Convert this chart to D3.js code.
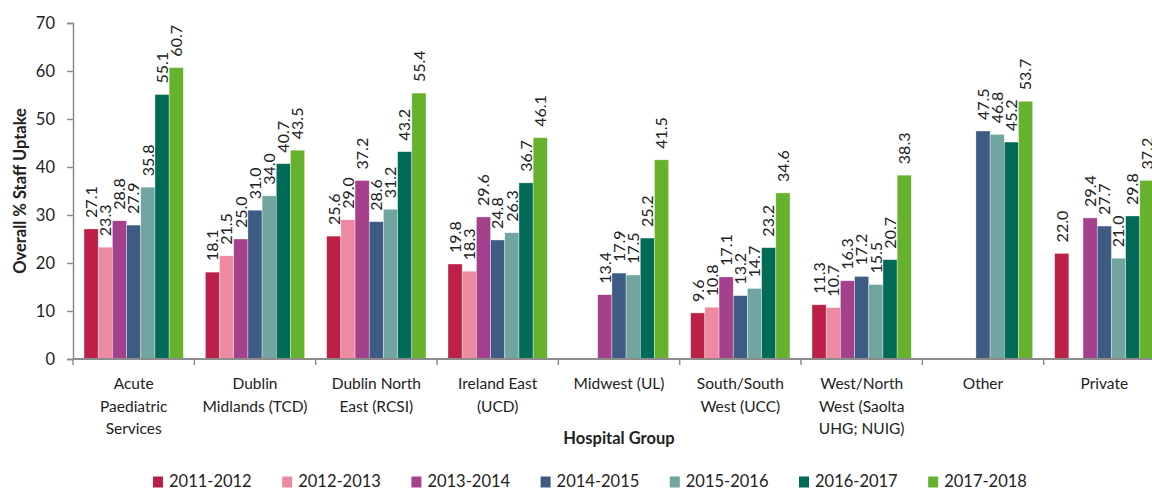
<!DOCTYPE html>
<html>
<head>
<meta charset="utf-8">
<script src="https://cdn.jsdelivr.net/npm/d3@7"></script>
<style>
  body { margin: 0; background: #fff; }
  svg { display: block; font-family: Lato, "Open Sans", sans-serif; }
</style>
</head>
<body>
<svg id="chart" width="1152" height="490"></svg>
<script>
// hospital groups (lines of each x label)
const groups = [
    ["Acute", "Paediatric", "Services"],
    ["Dublin", "Midlands (TCD)"],
    ["Dublin North", "East (RCSI)"],
    ["Ireland East", "(UCD)"],
    ["Midwest (UL)"],
    ["South/South", "West (UCC)"],
    ["West/North", "West (Saolta", "UHG; NUIG)"],
    ["Other"],
    ["Private"]
]

const seasons = ["2011-2012", "2012-2013", "2013-2014", "2014-2015", "2015-2016", "2016-2017", "2017-2018"]
const colors = ["#bc2046", "#ec8aa1", "#a5418c", "#3e5b83", "#72a59f", "#016b57", "#67b22d"]

// one array per season, one value per hospital group (null = no bar)
const v2011 = [27.1, 18.1, 25.6, 19.8, null, 9.6, 11.3, null, 22.0]
const v2012 = [23.3, 21.5, 29.0, 18.3, null, 10.8, 10.7, null, null]
const v2013 = [28.8, 25.0, 37.2, 29.6, 13.4, 17.1, 16.3, null, 29.4]
const v2014 = [27.9, 31.0, 28.6, 24.8, 17.9, 13.2, 17.2, 47.5, 27.7]
const v2015 = [35.8, 34.0, 31.2, 26.3, 17.5, 14.7, 15.5, 46.8, 21.0]
const v2016 = [55.1, 40.7, 43.2, 36.7, 25.2, 23.2, 20.7, 45.2, 29.8]
const v2017 = [60.7, 43.5, 55.4, 46.1, 41.5, 34.6, 38.3, 53.7, 37.2]
const series = [v2011, v2012, v2013, v2014, v2015, v2016, v2017]

const yTicks = [0, 10, 20, 30, 40, 50, 60, 70]

const margin = {top: 23, left: 73, bottom: 131}
const height = 490
const plotRight = 1165   // axis runs past the right edge, as in the original
const axisColor = "#8c8c8c"
const textColor = "#222"

const svg = d3.select("#chart")

const x = d3.scaleBand()
    .domain(d3.range(groups.length))
    .range([margin.left, plotRight])

const xInner = d3.scaleBand()
    .domain(d3.range(seasons.length))
    .range([11, x.bandwidth() - 11])

const y = d3.scaleLinear()
    .domain([0, 70])
    .range([height - margin.bottom, margin.top])

// bars
seasons.forEach(function(s, si){
    let data = series[si].map((v, gi) => ({g: gi, v: v})).filter(d => d.v !== null)
    let g = svg.append("g").attr("fill", colors[si])
    g.selectAll("rect").data(data).join("rect")
        .attr("x", d => x(d.g) + xInner(si))
        .attr("width", xInner.bandwidth())
        .attr("y", d => y(d.v))
        .attr("height", d => y(0) - y(d.v))
        .attr("stroke", "#fff")
        .attr("stroke-opacity", 0.6)
        .attr("stroke-width", 0.6)

    // value labels, rotated
    g.selectAll("text").data(data).join("text")
        .attr("transform", d => `translate(${x(d.g) + xInner(si) + xInner.bandwidth() / 2}, ${y(d.v) - 11}) rotate(-90)`)
        .attr("dy", "0.36em")
        .attr("fill", textColor)
        .attr("font-size", 16)
        .text(d => d.v.toFixed(1))
})

// y axis
const yAxis = svg.append("g")
    .attr("transform", `translate(${margin.left},0)`)
    .call(d3.axisLeft(y).tickValues(yTicks).tickSize(6).tickPadding(12).tickFormat(d3.format("d")))
yAxis.select(".domain").attr("stroke", axisColor).attr("stroke-width", 1.5)
yAxis.selectAll(".tick line").attr("stroke", axisColor).attr("stroke-width", 1.5)
yAxis.selectAll(".tick text").attr("fill", textColor).attr("font-size", 16.5).attr("font-family", "Lato, sans-serif")

// x axis with ticks between groups
const xAxis = svg.append("g")
    .attr("transform", `translate(0,${y(0)})`)
xAxis.append("line")
    .attr("x1", margin.left).attr("x2", plotRight)
    .attr("stroke", axisColor).attr("stroke-width", 2)
xAxis.selectAll(".sep").data(d3.range(groups.length + 1)).join("line")
    .attr("class", "sep")
    .attr("x1", i => margin.left + i * x.step())
    .attr("x2", i => margin.left + i * x.step())
    .attr("y1", 0).attr("y2", 6)
    .attr("stroke", axisColor).attr("stroke-width", 1.5)

// category labels
const catLabels = svg.append("g").attr("font-size", 15.5).attr("fill", textColor).attr("text-anchor", "middle")
groups.forEach(function(lines, gi){
    let t = catLabels.append("text")
        .attr("x", x(gi) + x.bandwidth() / 2)
        .attr("y", 389)
    lines.forEach(function(line, li){
        t.append("tspan")
            .attr("x", x(gi) + x.bandwidth() / 2)
            .attr("y", 389 + li * 22.7)
            .text(line)
    })
})

// axis titles
svg.append("text")
    .attr("x", (margin.left + plotRight) / 2)
    .attr("y", 444)
    .attr("text-anchor", "middle")
    .attr("font-weight", "bold")
    .attr("font-size", 16.5)
    .attr("fill", textColor)
    .text("Hospital Group")

svg.append("text")
    .attr("transform", `translate(26, ${(y(0) + y(70)) / 2}) rotate(-90)`)
    .attr("text-anchor", "middle")
    .attr("font-weight", "bold")
    .attr("font-size", 16.5)
    .attr("fill", textColor)
    .text("Overall % Staff Uptake")

// legend
const legend = svg.append("g").attr("transform", "translate(153, 481.5)")
const legendItems = legend.selectAll("g").data(seasons).join("g")
    .attr("transform", (d, i) => `translate(${i * 129.2}, 0)`)
legendItems.append("rect")
    .attr("x", 0).attr("y", -5).attr("width", 10).attr("height", 11)
    .attr("fill", (d, i) => colors[i])
legendItems.append("text")
    .attr("x", 16).attr("dy", "0.35em")
    .attr("font-size", 16.5)
    .attr("fill", textColor)
    .text(d => d)
</script>
</body>
</html>
